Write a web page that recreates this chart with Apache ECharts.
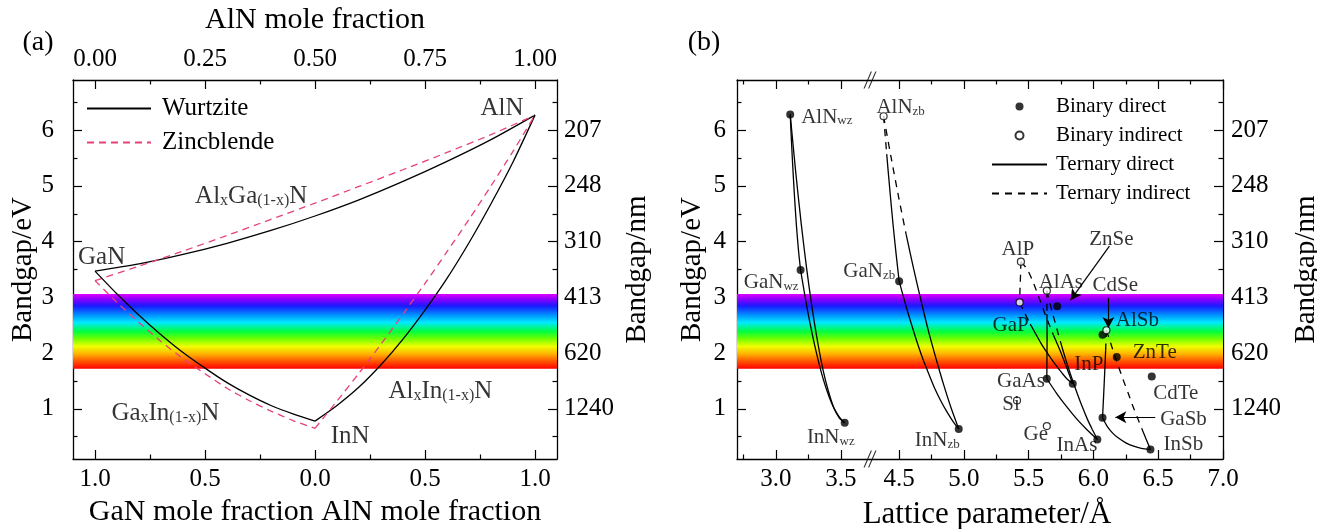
<!DOCTYPE html>
<html><head><meta charset="utf-8">
<script src="https://cdn.jsdelivr.net/npm/echarts@6.0.0/dist/echarts.min.js"></script>
<style>html,body{margin:0;padding:0;background:#fff}#c{width:1317px;height:529px}</style>
</head><body><div id="c"></div>
<script>
// ================= DATA =================
// Panel (a): composition coordinate u (GaN at -1, InN at 0, AlN at +1)
const uAlGaN = [-1,-0.8,-0.6,-0.4,-0.2,0,0.2,0.4,0.6,0.8,1];
const egAlGaN_wz = [3.47,3.60,3.77,3.97,4.20,4.46,4.75,5.08,5.44,5.83,6.27];
const egAlGaN_zb = [3.30,3.56,3.83,4.11,4.40,4.69,4.99,5.29,5.60,5.92,6.27];
const uGaInN = [-1,-0.9,-0.8,-0.7,-0.6,-0.5,-0.4,-0.3,-0.2,-0.1,0];
const egGaInN_wz = [3.47,3.06,2.68,2.33,2.01,1.73,1.47,1.25,1.06,0.91,0.78];
const egGaInN_zb = [3.30,2.91,2.55,2.21,1.90,1.63,1.37,1.15,0.96,0.79,0.65];
const uAlInN = [0,0.1,0.2,0.3,0.4,0.5,0.6,0.7,0.8,0.9,1];
const egAlInN_wz = [0.78,1.06,1.39,1.79,2.25,2.77,3.34,3.98,4.68,5.43,6.27];
const egAlInN_zb = [0.65,1.14,1.64,2.16,2.70,3.25,3.82,4.40,5.00,5.62,6.27];
const notesA = [
  {t:'GaN', u:-0.97, e:3.78},
  {t:'AlN', u:0.85, e:6.45},
  {t:'Al_{x}Ga_{(1-x)}N', u:-0.29, e:4.87},
  {t:'Ga_{x}In_{(1-x)}N', u:-0.68, e:0.98},
  {t:'InN', u:0.16, e:0.56},
  {t:'Al_{x}In_{(1-x)}N', u:0.57, e:1.37}
];

// Panel (b): binaries (lattice parameter / Å, bandgap / eV)
const wzNames = ['AlN_{wz}','GaN_{wz}','InN_{wz}'];
const wzA  = [3.11,3.19,3.53];
const wzEg = [6.28,3.49,0.75];
const dirNames = ['GaN_{zb}','InN_{zb}','ZnSe','GaAs','InP','InAs','CdSe','ZnTe','CdTe','GaSb','InSb'];
const dirA  = [4.50,4.96,5.72,5.64,5.84,6.03,6.07,6.18,6.45,6.07,6.44];
const dirEg = [3.29,0.64,2.84,1.54,1.45,0.45,2.33,1.93,1.58,0.84,0.27];
const indNames = ['AlN_{zb}','AlP','GaP','AlAs','AlSb','Si','Ge'];
const indA  = [4.38,5.44,5.43,5.64,6.10,5.41,5.64];
const indEg = [6.25,3.64,2.91,3.12,2.41,1.15,0.69];

// Panel (b): ternaries; ind = index where the indirect (dashed) part ends
const tAlGaN_wz = {a:[3.11,3.126,3.142,3.158,3.174,3.19], eg:[6.28,5.51,4.85,4.29,3.84,3.49], ind:0};
const tGaInN_wz = {a:[3.19,3.224,3.258,3.292,3.326,3.36,3.394,3.428,3.462,3.496,3.53], eg:[3.49,3.02,2.59,2.21,1.87,1.57,1.32,1.11,0.95,0.83,0.75], ind:0};
const tAlInN_wz = {a:[3.11,3.152,3.194,3.236,3.278,3.32,3.362,3.404,3.446,3.488,3.53], eg:[6.28,5.26,4.34,3.53,2.82,2.22,1.71,1.32,1.02,0.84,0.75], ind:0};
const tAlGaN_zb = {a:[4.38,4.404,4.428,4.452,4.476,4.50], eg:[6.25,5.57,4.93,4.33,3.79,3.29], ind:1};
const tAlInN_zb = {a:[4.38,4.438,4.496,4.554,4.612,4.67,4.728,4.786,4.844,4.902,4.96], eg:[6.25,5.51,4.80,4.13,3.51,2.93,2.38,1.89,1.43,1.01,0.64], ind:3};
const tGaInN_zb = {a:[4.50,4.546,4.592,4.638,4.684,4.73,4.776,4.822,4.868,4.914,4.96], eg:[3.29,2.90,2.54,2.20,1.89,1.62,1.36,1.14,0.95,0.78,0.64], ind:0};
const tAlGaP  = {a:[5.44,5.437,5.433,5.43], eg:[3.64,3.40,3.15,2.91], ind:3};
const tAlGaAs = {a:[5.64,5.641,5.642,5.641,5.64], eg:[3.12,2.70,2.30,1.92,1.54], ind:1};
const tAlInP  = {a:[5.44,5.49,5.54,5.59,5.64,5.69,5.74,5.79,5.84], eg:[3.64,3.50,3.24,2.93,2.62,2.33,2.06,1.76,1.45], ind:5};
const tAlInAs = {a:[5.64,5.679,5.718,5.757,5.796,5.843,5.874,5.913,5.952,5.991,6.03], eg:[3.12,2.76,2.43,2.11,1.81,1.48,1.28,1.04,0.82,0.63,0.45], ind:3};
const tGaInP  = {a:[5.43,5.471,5.512,5.553,5.594,5.635,5.676,5.717,5.758,5.799,5.84], eg:[2.91,2.71,2.52,2.35,2.18,2.03,1.89,1.76,1.64,1.53,1.45], ind:2};
const tInGaAs = {a:[5.64,5.718,5.796,5.874,5.952,6.03], eg:[1.54,1.27,1.03,0.81,0.62,0.45], ind:0};
const tAlGaSb = {a:[6.10,6.094,6.088,6.082,6.076,6.07], eg:[2.41,2.05,1.72,1.41,1.12,0.84], ind:1};
const tAlInSb = {a:[6.10,6.134,6.168,6.202,6.236,6.27,6.304,6.338,6.372,6.406,6.44], eg:[2.41,2.17,1.93,1.70,1.48,1.27,1.05,0.85,0.65,0.46,0.27], ind:8};
const tGaInSb = {a:[6.07,6.11,6.15,6.19,6.25,6.31,6.37,6.44], eg:[0.84,0.67,0.56,0.48,0.39,0.33,0.29,0.27], ind:0};
const ternLeft = [tAlGaN_wz, tGaInN_wz, tAlInN_wz];
const ternRight = [tAlGaN_zb, tAlInN_zb, tGaInN_zb, tAlGaP, tAlGaAs, tAlInP, tAlInAs, tGaInP, tInGaAs, tAlGaSb, tAlInSb, tGaInSb];

const arrows = [
  {t:'ZnSe', from:[6.123,3.92], to:[5.823,2.95], at:[6.138,4.08], align:'center'},
  {t:'CdSe', from:[6.115,2.99], to:[6.115,2.45], at:[6.169,3.26], align:'center'},
  {t:'GaSb', from:[6.477,0.85], to:[6.169,0.85], at:[6.515,0.85], align:'left'}
];

// tick values and labels
const eTicks = [1,2,3,4,5,6];
const eMinor = [0.5,1.5,2.5,3.5,4.5,5.5,6.5];
const eLabels = ['1','2','3','4','5','6'];
const nmLabels = ['1240','620','413','310','248','207'];
const compTicks = [-1,-0.5,0,0.5,1];
const compMinor = [-0.75,-0.25,0.25,0.75];
const compBottomLabels = ['1.0','0.5','0.0','0.5','1.0'];
const compTopLabels = ['0.00','0.25','0.50','0.75','1.00'];
const latTicksL = [3.0,3.5], latMinorL = [2.75,3.25], latLabelsL = ['3.0','3.5'];
const latTicksR = [4.5,5.0,5.5,6.0,6.5,7.0], latMinorR = [4.75,5.25,5.75,6.25,6.75];
const latLabelsR = ['4.5','5.0','5.5','6.0','6.5','7.0'];
const visBand = [1.72, 3.06];

// ================= STYLE / LAYOUT =================
const FONT = '"Liberation Serif", "DejaVu Serif", serif';
const PINK = '#e8407a';
const place = {
  'AlN_{wz}':[11,0,'left'], 'GaN_{wz}':[-2,10,'right'], 'InN_{wz}':[10,12,'right'],
  'AlN_{zb}':[17,-11,'center'], 'GaN_{zb}':[-4,-12,'right'], 'InN_{zb}':[1,9,'right'],
  'AlP':[-3,-15,'center'], 'GaP':[-9,21,'center'], 'AlAs':[14,-11,'center'],
  'GaAs':[-2,0,'right'], 'InP':[16,-22,'center'], 'Si':[-6,2,'center'], 'Ge':[-11,6,'center'],
  'InAs':[0,3,'right'], 'AlSb':[31,-12,'center'], 'ZnTe':[38,-7,'center'], 'CdTe':[24,14,'center'], 'InSb':[33,-8,'center']
};
function richify(s){ return s.replace(/([^_{}]+)|_\{([^}]*)\}/g, (m,a,b)=> a!==undefined ? '{m|'+a+'}' : '{s|'+b+'}'); }
const richA = {m:{fontFamily:FONT,fontSize:25,color:'#000',lineHeight:32,verticalAlign:'bottom'}, s:{fontFamily:FONT,fontSize:16,color:'#000',lineHeight:16,verticalAlign:'bottom'}};
const richB = {m:{fontFamily:FONT,fontSize:21,color:'#000',lineHeight:26,verticalAlign:'bottom'}, s:{fontFamily:FONT,fontSize:13,color:'#000',lineHeight:12,verticalAlign:'bottom'}};

function ax(o){
  const a = {
    type:'value', gridIndex:o.grid, position:o.pos, min:o.min, max:o.max,
    splitLine:{show:false}, silent:true,
    axisLine:{show:o.line!==false, onZero:false, lineStyle:{color:'#000', width:1.3}},
    axisTick:{show:true, inside:true, length:o.len||9, customValues:o.ticks, lineStyle:{color:'#000', width:1.2}},
    axisLabel:{show:!!o.labels, customValues:o.ticks, margin:o.margin||8, color:'#000', fontFamily:FONT, fontSize:25,
      formatter: (v)=>{ if(!o.labels) return ''; const i=o.ticks.findIndex(t=>Math.abs(t-v)<1e-6); return i>=0?o.labels[i]:''; }}
  };
  if(o.name){ a.name=o.name; a.nameLocation='middle'; a.nameGap=o.gap; a.nameTextStyle={color:'#000', fontFamily:FONT, fontSize:o.nfs||29}; }
  return a;
}
const EMIN=0.1, EMAX=6.9;
const xAxis = [
  ax({grid:0,pos:'bottom',min:-1.1,max:1.1,ticks:compTicks,labels:compBottomLabels,name:'GaN mole fraction AlN mole fraction',gap:35,nfs:30}),
  ax({grid:0,pos:'bottom',min:-1.1,max:1.1,ticks:compMinor,len:4.5,line:false}),
  ax({grid:0,pos:'top',min:-1.1,max:1.1,ticks:compTicks,labels:compTopLabels,name:'AlN mole fraction',gap:45,nfs:30}),
  ax({grid:0,pos:'top',min:-1.1,max:1.1,ticks:compMinor,len:4.5,line:false}),
  ax({grid:1,pos:'bottom',min:2.7,max:3.725,ticks:latTicksL,labels:latLabelsL}),
  ax({grid:1,pos:'bottom',min:2.7,max:3.725,ticks:latMinorL,len:4.5,line:false}),
  ax({grid:1,pos:'top',min:2.7,max:3.725,ticks:latTicksL}),
  ax({grid:1,pos:'top',min:2.7,max:3.725,ticks:latMinorL,len:4.5,line:false}),
  ax({grid:2,pos:'bottom',min:4.275,max:7.0,ticks:latTicksR,labels:latLabelsR}),
  ax({grid:2,pos:'bottom',min:4.275,max:7.0,ticks:latMinorR,len:4.5,line:false}),
  ax({grid:2,pos:'top',min:4.275,max:7.0,ticks:latTicksR}),
  ax({grid:2,pos:'top',min:4.275,max:7.0,ticks:latMinorR,len:4.5,line:false})
];
const yAxis = [
  ax({grid:0,pos:'left',min:EMIN,max:EMAX,ticks:eTicks,labels:eLabels,margin:19,name:'Bandgap/eV',gap:31}),
  ax({grid:0,pos:'left',min:EMIN,max:EMAX,ticks:eMinor,len:4.5,line:false}),
  ax({grid:0,pos:'right',min:EMIN,max:EMAX,ticks:eTicks,labels:nmLabels,margin:7,name:'Bandgap/nm',gap:66}),
  ax({grid:0,pos:'right',min:EMIN,max:EMAX,ticks:eMinor,len:4.5,line:false}),
  ax({grid:1,pos:'left',min:EMIN,max:EMAX,ticks:eTicks,labels:eLabels,margin:11,name:'Bandgap/eV',gap:30}),
  ax({grid:1,pos:'left',min:EMIN,max:EMAX,ticks:eMinor,len:4.5,line:false}),
  ax({grid:2,pos:'right',min:EMIN,max:EMAX,ticks:eTicks,labels:nmLabels,margin:8,name:'Bandgap/nm',gap:69}),
  ax({grid:2,pos:'right',min:EMIN,max:EMAX,ticks:eMinor,len:4.5,line:false})
];
const grid = [
  {left:73, top:80, width:484, height:379, outerBoundsMode:'none'},
  {left:737, top:80, width:133, height:379, outerBoundsMode:'none'},
  {left:870, top:80, width:353, height:379, outerBoundsMode:'none'}
];
const AX = [{x:0,y:0},{x:4,y:4},{x:8,y:6}];

const rainbow = {type:'linear', x:0, y:0, x2:0, y2:1, colorStops:[
  {offset:0,color:'#e200ff'},{offset:0.07,color:'#8a00ff'},{offset:0.16,color:'#1a1aff'},
  {offset:0.28,color:'#0090ff'},{offset:0.38,color:'#00e8ff'},{offset:0.5,color:'#00ff40'},
  {offset:0.6,color:'#70ff00'},{offset:0.7,color:'#eeff00'},{offset:0.8,color:'#ffb400'},
  {offset:0.9,color:'#ff5500'},{offset:1,color:'#ff0000'}]};

const series = [];
function band(g){
  series.push({type:'line', xAxisIndex:AX[g].x, yAxisIndex:AX[g].y, data:[], silent:true, z:1,
    markArea:{silent:true, itemStyle:{color:rainbow}, data:[[{yAxis:visBand[0]},{yAxis:visBand[1]}]]}});
}
band(0); band(1); band(2);

function line(name, xs, ys, g, color, dashed, dash){
  series.push({type:'line', name, xAxisIndex:AX[g].x, yAxisIndex:AX[g].y, data:xs.map((x,i)=>[x,ys[i]]),
    symbol:'none', showSymbol:false, smooth:0.25, silent:true, z:3, clip:false,
    lineStyle:{color, width:1.3, type: dashed ? (dash||[7,5]) : 'solid'}, itemStyle:{color}});
}
// panel (a)
line('Wurtzite', uAlGaN, egAlGaN_wz, 0, '#000', false);
line('Zincblende', uAlGaN, egAlGaN_zb, 0, PINK, true);
line('Wurtzite', uGaInN, egGaInN_wz, 0, '#000', false);
line('Zincblende', uGaInN, egGaInN_zb, 0, PINK, true);
line('Wurtzite', uAlInN, egAlInN_wz, 0, '#000', false);
line('Zincblende', uAlInN, egAlInN_zb, 0, PINK, true);
series.push({type:'scatter', xAxisIndex:0, yAxisIndex:0, symbolSize:0, silent:true, z:5,
  data: notesA.map(n=>({value:[n.u,n.e], label:{show:true, position:'inside', formatter:richify(n.t), rich:richA, color:'#000'}}))});

// panel (b) ternaries
function tern(t, g){
  if (t.ind>0) line('Ternary indirect', t.a.slice(0,t.ind+1), t.eg.slice(0,t.ind+1), g, '#000', true, [7,6]);
  if (t.ind < t.a.length-1) line('Ternary direct', t.a.slice(t.ind), t.eg.slice(t.ind), g, '#000', false);
}
ternLeft.forEach(t=>tern(t,1));
ternRight.forEach(t=>tern(t,2));

function binLabel(n){
  const p = place[n];
  if(!p) return {show:false};
  return {show:true, position:'inside', offset:[p[0],p[1]], align:p[2], verticalAlign:'middle', formatter:richify(n), rich:richB, color:'#000'};
}
function binaries(name, names, as, egs, g, filled){
  series.push({type:'scatter', name, xAxisIndex:AX[g].x, yAxisIndex:AX[g].y, symbol:'circle', symbolSize: filled?8:7,
    silent:true, z:6, clip:false,
    itemStyle: filled ? {color:'#000'} : {color:'#fff', borderColor:'#000', borderWidth:1.2},
    data: names.map((n,i)=>({value:[as[i],egs[i]], name:n, label:binLabel(n)}))});
}
binaries('Binary direct', wzNames, wzA, wzEg, 1, true);
binaries('Binary direct', dirNames, dirA, dirEg, 2, true);
binaries('Binary indirect', indNames, indA, indEg, 2, false);

// arrows and their labels
series.push({type:'line', xAxisIndex:8, yAxisIndex:6, data:[], silent:true, z:7,
  markLine:{silent:true, symbol:['none','arrow'], symbolSize:[9,11], precision:4,
    lineStyle:{color:'#000', width:1.2, type:'solid'}, label:{show:false},
    data: arrows.map(ar=>[{coord:ar.from},{coord:ar.to}])}});
series.push({type:'scatter', xAxisIndex:8, yAxisIndex:6, symbolSize:0, silent:true, z:7,
  data: arrows.map(ar=>({value:ar.at, label:{show:true, position:'inside', align:ar.align, verticalAlign:'middle', formatter:richify(ar.t), rich:richB, color:'#000'}}))});

// axis-break marks
series.push({type:'scatter', xAxisIndex:4, yAxisIndex:4, silent:true, z:8, clip:false,
  symbol:'path://M0,20 L8,0 L9.3,0 L1.3,20 Z M5,20 L13,0 L14.3,0 L6.3,20 Z', symbolSize:[13,17],
  itemStyle:{color:'#000'}, data:[[3.725,EMAX],[3.725,EMIN]]});

const hideSym = {opacity:0};
const option = {
  animation:false, backgroundColor:'#fff',
  grid, xAxis, yAxis, series,
  legend:[
    {data:[{name:'Wurtzite', itemStyle:hideSym},{name:'Zincblende', itemStyle:hideSym}], orient:'vertical', left:86, top:96, itemWidth:64, itemHeight:14, itemGap:9,
     padding:0, selectedMode:false, textStyle:{fontFamily:FONT, fontSize:25, color:'#000', padding:[0,0,0,6]}},
    {data:['Binary direct','Binary indirect',{name:'Ternary direct', itemStyle:hideSym},{name:'Ternary indirect', itemStyle:hideSym}], orient:'vertical', left:991, top:96,
     itemWidth:55, itemHeight:8, itemGap:8, padding:0, selectedMode:false,
     textStyle:{fontFamily:FONT, fontSize:21, color:'#000', padding:[0,0,0,4]}}
  ],
  graphic:[
    {type:'text', x:38, y:43, style:{text:'(a)', font:'28px '+FONT, fill:'#000', align:'center', verticalAlign:'middle'}},
    {type:'text', x:704, y:43, style:{text:'(b)', font:'28px '+FONT, fill:'#000', align:'center', verticalAlign:'middle'}},
    {type:'text', x:987, y:515, style:{text:'Lattice parameter/Å', font:'31px '+FONT, fill:'#000', align:'center', verticalAlign:'middle'}}
  ]
};
const chart = echarts.init(document.getElementById('c'), null, {renderer:'canvas', width:1317, height:529});
chart.setOption(option);
</script></body></html>
